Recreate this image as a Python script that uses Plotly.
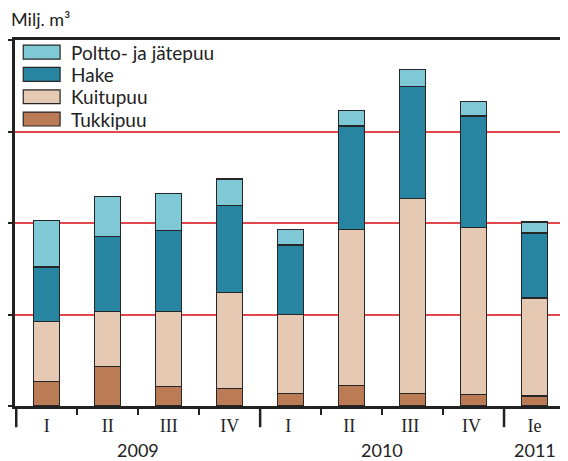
import plotly.graph_objects as go

# Data (milj. m3)
years = ["2009", "2009", "2009", "2009", "2010", "2010", "2010", "2010", "2011"]
quarters = ["I", "II", "III", "IV", "I ", "II ", "III ", "IV ", "Ie"]
tukkipuu = [0.27, 0.43, 0.21, 0.19, 0.14, 0.22, 0.14, 0.13, 0.11]
kuitupuu = [0.65, 0.60, 0.82, 1.05, 0.86, 1.71, 2.13, 1.82, 1.07]
hake = [0.60, 0.82, 0.89, 0.95, 0.76, 1.13, 1.22, 1.22, 0.71]
polttopuu = [0.51, 0.44, 0.40, 0.29, 0.17, 0.17, 0.19, 0.16, 0.12]

names = ["Tukkipuu", "Kuitupuu", "Hake", "Poltto- ja jätepuu"]
colors = ["#BB7B55", "#E6C9B3", "#2785A1", "#7FC9D6"]
series = [tukkipuu, kuitupuu, hake, polttopuu]

serif = "Liberation Serif"
sans = "Lato"
ink = "#222"

fig = go.Figure()
for name, col, vals in zip(names, colors, series):
    fig.add_trace(go.Bar(x=quarters, y=vals, name=name, marker_color=col,
                         marker_line_color="#262626", marker_line_width=1.2))

# page body has an 8px margin, so the figure is 8px smaller than the window
fig.update_layout(
    barmode="stack", bargap=0.575,
    width=560, height=453, showlegend=False,
    margin=dict(l=7, r=3, t=32, b=55),
    plot_bgcolor="white", paper_bgcolor="white",
    font=dict(family=sans, size=18, color=ink),
)

fig.update_yaxes(range=[0, 4], dtick=1, showgrid=True, gridcolor="#E0484E", gridwidth=1.5,
                 zeroline=False, showline=True, linecolor=ink, linewidth=2.5, mirror=True,
                 ticks="outside", ticklen=8, tickwidth=2, tickcolor=ink, automargin=False,
                 ticklabeloverflow="allow",
                 tickfont=dict(family=sans, size=18, color=ink))
fig.update_xaxes(type="category", showline=True, linecolor=ink, linewidth=2.5, mirror=True,
                 showgrid=False, tickson="boundaries",
                 ticks="outside", ticklen=6, tickwidth=2, tickcolor=ink, automargin=False,
                 ticklabelstandoff=2,
                 tickfont=dict(family=serif, size=18, color=ink))

# year labels and year dividers below the axis
idx_by_year = {}
for i, y in enumerate(years):
    idx_by_year.setdefault(y, []).append(i)
for y, idx in idx_by_year.items():
    fig.add_annotation(x=sum(idx) / len(idx), y=0, xref="x", yref="paper", text=y,
                       showarrow=False, yanchor="middle", yshift=-44,
                       font=dict(family=sans, size=18, color=ink))
    fig.add_shape(type="line", xref="x", yref="paper", x0=idx[0] - 0.5, x1=idx[0] - 0.5,
                  y0=0, y1=-0.058, line=dict(color=ink, width=2.5))

# custom legend with wide swatches (top item = top of stack)
for i, (name, col) in enumerate(zip(names[::-1], colors[::-1])):
    yy = 0.967 - i * 0.061
    fig.add_shape(type="rect", xref="paper", yref="paper",
                  x0=0.015, x1=0.082, y0=yy - 0.019, y1=yy + 0.019,
                  fillcolor=col, line=dict(color="#262626", width=1.2))
    fig.add_annotation(x=0.098, y=yy, xref="paper", yref="paper", text=name,
                       showarrow=False, xanchor="left", yanchor="middle",
                       font=dict(family=sans, size=19, color=ink))

fig.add_annotation(x=0.0, y=1.0, xref="paper", yref="paper", text="Milj. m³",
                   showarrow=False, xanchor="left", yanchor="bottom", yshift=8, xshift=-6,
                   font=dict(family=sans, size=18, color=ink))

fig.write_html("out.html")
